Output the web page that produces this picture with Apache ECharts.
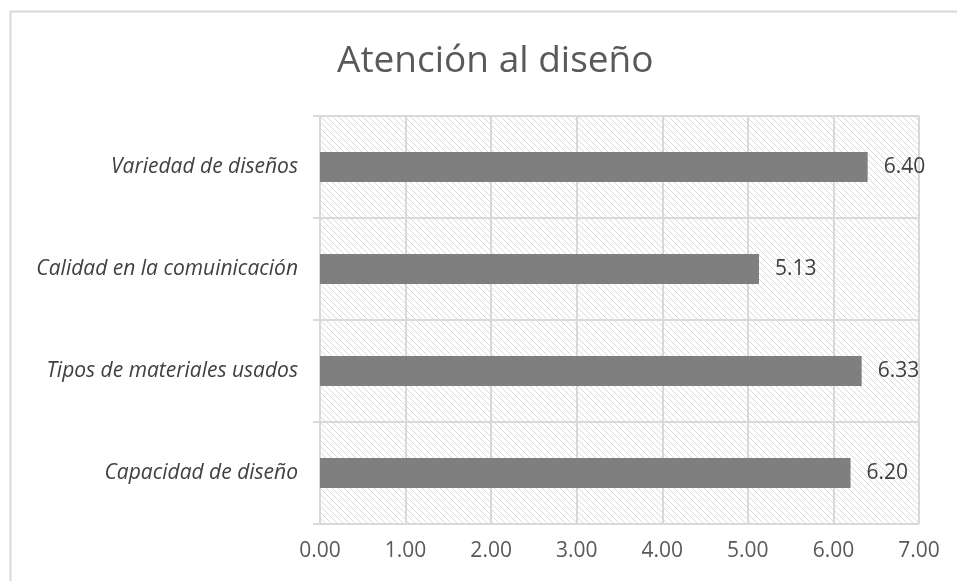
<!DOCTYPE html>
<html>
<head>
<meta charset="utf-8">
<script src="https://cdn.jsdelivr.net/npm/echarts@6/dist/echarts.min.js"></script>
<style>
  html, body { margin: 0; padding: 0; background: #fff; }
  #chart { width: 957px; height: 581px; }
</style>
</head>
<body>
<div id="chart"></div>
<script>
// datos del gráfico (de abajo hacia arriba)
const categories = ['Capacidad de diseño', 'Tipos de materiales usados', 'Calidad en la comuinicación', 'Variedad de diseños'];
const values = [6.20, 6.33, 5.13, 6.40];
const xTicks = [0, 1, 2, 3, 4, 5, 6, 7];

// trama diagonal del fondo
function hatch() {
  const c = document.createElement('canvas');
  c.width = 6; c.height = 6;
  const g = c.getContext('2d');
  g.fillStyle = '#ffffff';
  g.fillRect(0, 0, 6, 6);
  g.strokeStyle = '#dadada';
  g.lineWidth = 1;
  g.beginPath();
  g.moveTo(-1, -1); g.lineTo(7, 7);
  g.moveTo(-4, 2); g.lineTo(4, 10);
  g.moveTo(2, -4); g.lineTo(10, 4);
  g.stroke();
  return c;
}

var myChart = echarts.init(document.getElementById('chart'));
var option = {
  backgroundColor: '#fff',
  animation: false,
  title: {
    text: 'Atención al diseño',
    left: 332,
    top: 38,
    textStyle: { fontFamily: 'Open Sans', fontSize: 37, fontWeight: 'normal', color: '#595959' }
  },
  graphic: [{
    type: 'rect',
    shape: { x: 10.5, y: 11.5, width: 1000, height: 1000 },
    style: { fill: 'none', stroke: '#d9d9d9', lineWidth: 2 },
    silent: true
  }],
  grid: {
    show: true,
    left: 320, right: 38, top: 116, bottom: 57,
    borderWidth: 0,
    backgroundColor: { image: hatch(), repeat: 'repeat' }
  },
  xAxis: {
    type: 'value',
    min: xTicks[0],
    max: xTicks[xTicks.length - 1],
    interval: 1,
    axisLine: { show: false },
    axisTick: { show: false },
    axisLabel: {
      margin: 17,
      fontFamily: 'Open Sans', fontSize: 21, color: '#595959',
      formatter: v => v.toFixed(2)
    },
    splitLine: { show: true, lineStyle: { color: '#d9d9d9', width: 2 } }
  },
  yAxis: {
    type: 'category',
    data: categories,
    axisLine: { show: true, lineStyle: { color: '#d9d9d9', width: 2 } },
    axisTick: { show: true, length: 7, lineStyle: { color: '#d9d9d9', width: 2 } },
    axisLabel: {
      margin: 22,
      fontFamily: 'Open Sans', fontSize: 21, fontStyle: 'italic', color: '#404040'
    },
    splitLine: { show: true, lineStyle: { color: '#d9d9d9', width: 2 } }
  },
  series: [{
    type: 'bar',
    data: values,
    barWidth: 30,
    itemStyle: { color: '#7f7f7f' },
    label: {
      show: true,
      position: 'right',
      distance: 16,
      fontFamily: 'Open Sans', fontSize: 21, color: '#404040',
      formatter: p => p.value.toFixed(2)
    }
  }]
};
myChart.setOption(option);
</script>
</body>
</html>
